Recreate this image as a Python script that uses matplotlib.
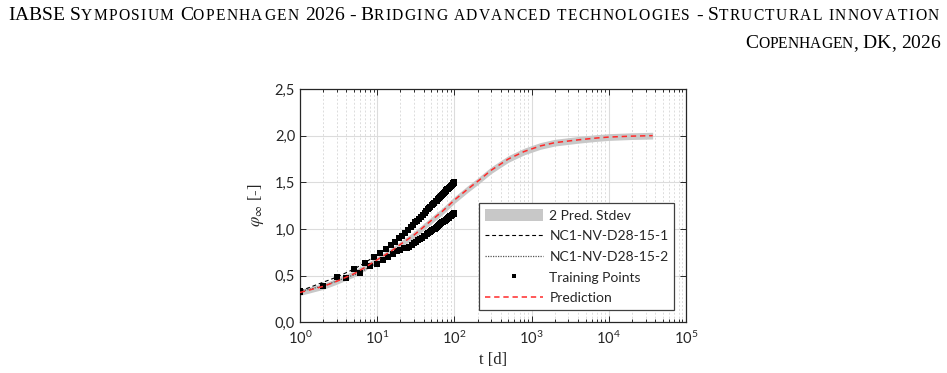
import matplotlib
matplotlib.use("Agg")
import matplotlib.pyplot as plt
import numpy as np
from matplotlib.ticker import LogLocator, NullFormatter, FixedLocator
from matplotlib.patches import Patch
from matplotlib.lines import Line2D

# ---------------- data ----------------
t1 = [1, 3, 5, 7, 9, 11, 13, 15, 17, 19, 21, 23, 25, 27, 29, 31, 33, 35, 37, 39,
      41, 43, 45, 47, 49, 51, 53, 55, 57, 59, 61, 63, 65, 67, 69, 71, 73, 75, 77, 79,
      81, 83, 85, 87, 89, 91, 93, 95, 97, 99, 100]
y1 = [0.335, 0.485, 0.57, 0.64, 0.70, 0.745, 0.79, 0.83, 0.865, 0.90, 0.93, 0.96, 0.99,
      1.02, 1.045, 1.07, 1.09, 1.11, 1.13, 1.15, 1.17, 1.19, 1.21, 1.225, 1.24, 1.255,
      1.27, 1.28, 1.295, 1.305, 1.32, 1.33, 1.34, 1.355, 1.365, 1.375, 1.385, 1.395,
      1.405, 1.415, 1.425, 1.43, 1.44, 1.45, 1.455, 1.465, 1.475, 1.48, 1.49, 1.495, 1.50]

t2 = [1, 2, 4, 6, 8, 10, 12, 14, 16, 18, 20, 22, 24, 26, 28, 30, 32, 34, 36, 38, 40,
      42, 44, 46, 48, 50, 52, 54, 56, 58, 60, 62, 64, 66, 68, 70, 72, 74, 76, 78, 80,
      82, 84, 86, 88, 90, 92, 94, 96, 98, 100]
y2 = [0.33, 0.39, 0.48, 0.53, 0.60, 0.63, 0.67, 0.70, 0.73, 0.76, 0.78, 0.795, 0.80,
      0.81, 0.83, 0.85, 0.865, 0.88, 0.895, 0.905, 0.92, 0.93, 0.945, 0.955, 0.965,
      0.975, 0.985, 0.995, 1.005, 1.015, 1.025, 1.035, 1.04, 1.05, 1.06, 1.07, 1.075,
      1.085, 1.09, 1.10, 1.105, 1.115, 1.12, 1.13, 1.135, 1.14, 1.145, 1.155, 1.16,
      1.165, 1.17]

t_pred = [1, 2, 3, 5, 7, 10, 15, 20, 30, 50, 70, 100, 150, 200, 300, 500, 800, 1300,
          2000, 4000, 7000, 10000, 20000, 37000]
y_pred = [0.32, 0.385, 0.44, 0.52, 0.59, 0.67, 0.76, 0.835, 0.935, 1.09, 1.19, 1.31, 1.43,
          1.51, 1.63, 1.75, 1.83, 1.89, 1.925, 1.955, 1.975, 1.985, 1.995, 2.0]
sd_pred = [0.016, 0.016, 0.016, 0.017, 0.017, 0.017, 0.017, 0.017, 0.018, 0.018, 0.018,
           0.018, 0.018, 0.018, 0.018, 0.018, 0.018, 0.018, 0.018, 0.018, 0.018, 0.018,
           0.018, 0.018]

x_ticks = [1, 10, 100, 1000, 10000, 100000]
x_tick_labels = [r"$10^{0}$", r"$10^{1}$", r"$10^{2}$", r"$10^{3}$", r"$10^{4}$", r"$10^{5}$"]
y_ticks = [0.0, 0.5, 1.0, 1.5, 2.0, 2.5]
y_tick_labels = ["0,0", "0,5", "1,0", "1,5", "2,0", "2,5"]

labels = ["2 Pred. Stdev", "NC1-NV-D28-15-1", "NC1-NV-D28-15-2", "Training Points", "Prediction"]

header_1 = "IABSE Symposium Copenhagen 2026 - Bridging advanced technologies - Structural innovation"
header_2 = "Copenhagen, DK, 2026"

# ---------------- style ----------------
W, H = 947, 373
plt.rcParams["font.family"] = ["Lato", "DejaVu Sans"]
plt.rcParams["mathtext.fontset"] = "custom"
plt.rcParams["mathtext.rm"] = "Lato"
plt.rcParams["mathtext.it"] = "Lato:italic"
plt.rcParams["mathtext.bf"] = "Lato:bold"

fig = plt.figure(figsize=(W / 100, H / 100), dpi=100)
fig.patch.set_facecolor("white")

ax_l, ax_r, ax_t, ax_b = 300, 686, 89, 322.3
ax = fig.add_axes([ax_l / W, 1 - ax_b / H, (ax_r - ax_l) / W, (ax_b - ax_t) / H])

yp = np.array(y_pred)
sd = np.array(sd_pred)
band = ax.fill_between(t_pred, yp - 2 * sd, yp + 2 * sd, color="#c8c8c8", lw=0, zorder=2)
l1, = ax.plot(t1, y1, color="black", ls=(0, (3.5, 2.5)), lw=0.8, zorder=3)
l2, = ax.plot(t2, y2, color="#555555", ls=(0, (1, 1)), lw=0.9, zorder=3)
pts, = ax.plot(t1 + t2, y1 + y2, ls="none", marker="s", ms=3.8, color="black",
               markeredgewidth=0, zorder=4)
lp, = ax.plot(t_pred, y_pred, color="#ff2a2a", ls=(0, (3.5, 2.5)), lw=1.1, zorder=5)

ax.set_xscale("log")
ax.set_xlim(1, 1e5)
ax.set_ylim(0, 2.5)
ax.xaxis.set_major_locator(FixedLocator(x_ticks))
ax.set_xticklabels(x_tick_labels)
ax.xaxis.set_minor_locator(LogLocator(base=10, subs=np.arange(2, 10), numticks=20))
ax.xaxis.set_minor_formatter(NullFormatter())
ax.set_yticks(y_ticks)
ax.set_yticklabels(y_tick_labels)

ax.tick_params(which="both", direction="in", top=True, right=True, colors="#262626",
               labelsize=10.5, width=0.7)
ax.tick_params(which="major", length=4)
ax.tick_params(which="minor", length=2.5)
ax.tick_params(axis="x", pad=5)
for s in ax.spines.values():
    s.set_color("#262626")
    s.set_linewidth(0.9)

ax.grid(which="major", color="#dcdcdc", lw=0.8, ls="-", zorder=0)
ax.grid(which="minor", axis="x", color="#dcdcdc", lw=0.7, ls=(0, (2, 2)), zorder=0)
ax.set_axisbelow(True)

ax.set_xlabel("t [d]", fontsize=12, family="Liberation Serif", color="#262626", labelpad=4)
ax.set_ylabel(r"$\varphi_{\infty}$ [-]", fontsize=12, family="Liberation Serif",
              color="#262626", math_fontfamily="stix", labelpad=6)

handles = [Patch(facecolor="#c8c8c8", edgecolor="none"), l1, l2,
           Line2D([], [], ls="none", marker="s", ms=3.3, color="black", markeredgewidth=0),
           lp]
leg = ax.legend(handles, labels, loc="upper left",
                bbox_to_anchor=((479.3 - ax_l) / (ax_r - ax_l), (ax_b - 203.3) / (ax_b - ax_t)),
                borderaxespad=0, fontsize=10.0, handlelength=4.2, handleheight=1.0,
                handletextpad=0.45, labelspacing=0.55, borderpad=0.4, fancybox=False,
                framealpha=1, edgecolor="#404040", labelcolor="#262626")
leg.get_frame().set_linewidth(0.9)


# ---------------- header in small caps ----------------
def small_caps(text, x_right_px, y_base_px, big=14.0, small=11.2, x_left_px=None):
    renderer = fig.canvas.get_renderer()
    chars = [(ch.upper(), small) if ch.islower() else (ch, big) for ch in text]

    def width(s, sz):
        a = fig.text(0, 0, "|" + s + "|", fontsize=sz, family="Liberation Serif")
        b = fig.text(0, 0, "||", fontsize=sz, family="Liberation Serif")
        w = a.get_window_extent(renderer).width - b.get_window_extent(renderer).width
        a.remove()
        b.remove()
        return w

    widths = [width(c, sz) for c, sz in chars]
    natural = sum(widths)
    n_small = sum(1 for _, sz in chars if sz == small)
    extra = 0.0
    if x_left_px is not None:
        extra = max(0.0, (x_right_px - x_left_px - natural) / max(n_small, 1))
    x = x_right_px - (natural + extra * n_small)
    for (c, sz), w in zip(chars, widths):
        if c != " ":
            fig.text(x / W, 1 - y_base_px / H, c, fontsize=sz, family="Liberation Serif",
                     va="baseline", ha="left", color="black")
        x += w + (extra if sz == small else 0.0)


small_caps(header_1, 940, 20.5, x_left_px=8)
small_caps(header_2, 940, 48)

fig.savefig("out.png", dpi=100, facecolor="white")
